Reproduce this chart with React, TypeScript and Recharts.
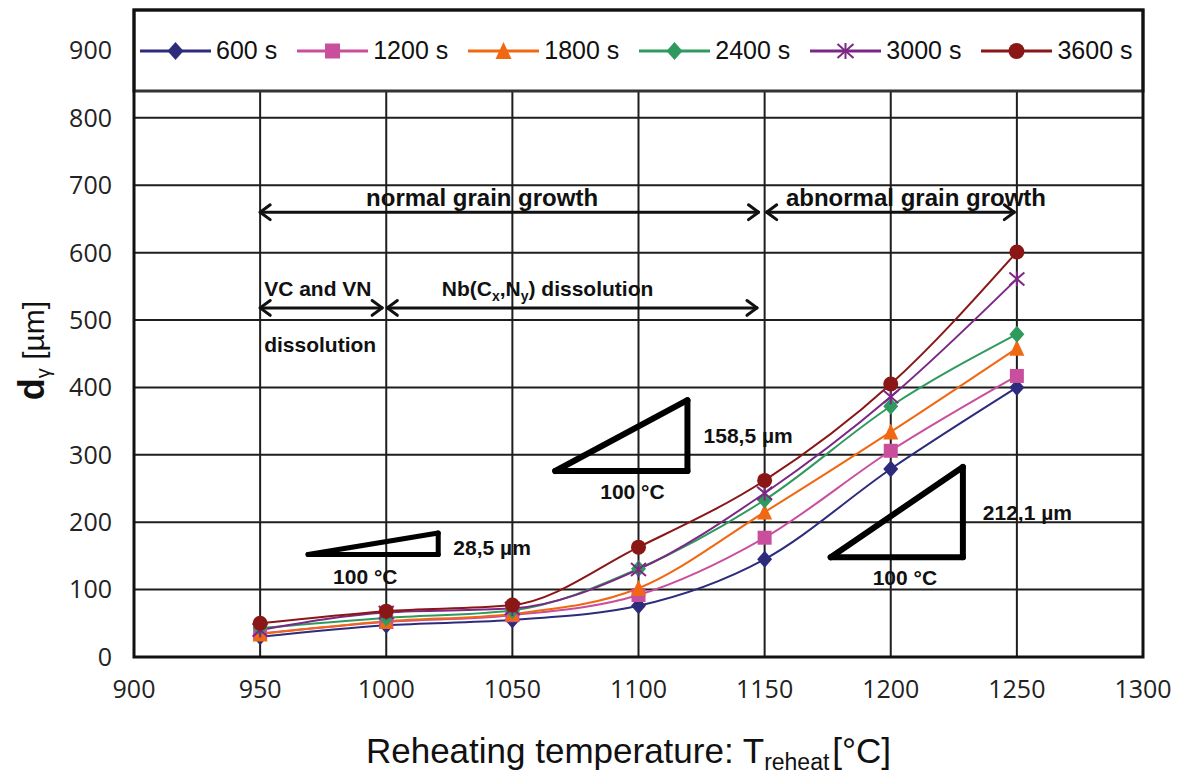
import React from 'react';
import {
  LineChart,
  Line,
  XAxis,
  YAxis,
  CartesianGrid,
  ReferenceArea,
  ReferenceLine,
  ReferenceDot,
} from 'recharts';

// reheating temperatures [°C]
const temps = [950, 1000, 1050, 1100, 1150, 1200, 1250];

// grain size d_gamma [µm] per holding time
const d600 = [30, 47, 55, 76, 145, 279, 400];
const d1200 = [35, 52, 62, 92, 177, 306, 417];
const d1800 = [34, 53, 64, 102, 215, 334, 458];
const d2400 = [43, 58, 69, 131, 233, 372, 479];
const d3000 = [40, 66, 72, 130, 243, 386, 561];
const d3600 = [50, 68, 77, 163, 262, 405, 601];

const xTicks = [900, 950, 1000, 1050, 1100, 1150, 1200, 1250, 1300];
const yTicks = [0, 100, 200, 300, 400, 500, 600, 700, 800, 900];

const series = [
  { key: 'd600', name: '600 s', color: '#2d2b7c', shape: 'diamond', values: d600 },
  { key: 'd1200', name: '1200 s', color: '#c94f9d', shape: 'square', values: d1200 },
  { key: 'd1800', name: '1800 s', color: '#f06812', shape: 'triangle', values: d1800 },
  { key: 'd2400', name: '2400 s', color: '#2f9a5d', shape: 'diamond', values: d2400 },
  { key: 'd3000', name: '3000 s', color: '#7b2885', shape: 'star', values: d3000 },
  { key: 'd3600', name: '3600 s', color: '#8a1616', shape: 'circle', values: d3600 },
];

const data = temps.map((t, i) => {
  const row: Record<string, number> = { t };
  series.forEach((s) => {
    row[s.key] = s.values[i];
  });
  return row;
});

// slope triangles: left tip, top right corner, bottom right corner (data units)
const triangles = [
  [[969, 152], [1020.6, 184], [1020.6, 152]],
  [[1067, 276], [1119.4, 381], [1119.4, 276]],
  [[1176.2, 148], [1228.6, 282], [1228.6, 148]],
];

// double arrows: y level, x from, x to
const arrows = [
  [660, 950, 1147.6],
  [660, 1150.8, 1249],
  [518, 950, 998.4],
  [518, 1000.4, 1147],
];

// text notes: x, y, text, size, anchor
const notes: [number, number, string, number, string][] = [
  [1038, 682, 'normal grain growth', 24, 'middle'],
  [1210, 682, 'abnormal grain growth', 24, 'middle'],
  [951.6, 546, 'VC and VN', 21, 'start'],
  [951.6, 464, 'dissolution', 21, 'start'],
  [1026.6, 162, '28,5 µm', 21, 'start'],
  [991.7, 119, '100 °C', 21, 'middle'],
  [1125.8, 328, '158,5 µm', 21, 'start'],
  [1097.6, 245, '100 °C', 21, 'middle'],
  [1236.5, 214, '212,1 µm', 21, 'start'],
  [1205.6, 117, '100 °C', 21, 'middle'],
];

const noteFont = '"Liberation Sans", Arial, sans-serif';

function Marker({ shape, color, cx, cy, size = 15 }: any) {
  const h = size / 2;
  if (shape === 'diamond') {
    return <polygon points={`${cx},${cy - h - 1} ${cx + h},${cy} ${cx},${cy + h + 1} ${cx - h},${cy}`} fill={color} />;
  }
  if (shape === 'square') {
    return <rect x={cx - h + 0.5} y={cy - h + 0.5} width={size - 1} height={size - 1} fill={color} />;
  }
  if (shape === 'triangle') {
    return <polygon points={`${cx},${cy - h - 1} ${cx + h},${cy + h} ${cx - h},${cy + h}`} fill={color} />;
  }
  if (shape === 'star') {
    return (
      <g stroke={color} strokeWidth={2}>
        <line x1={cx} y1={cy - h} x2={cx} y2={cy + h} />
        <line x1={cx - h} y1={cy - h + 1} x2={cx + h} y2={cy + h - 1} />
        <line x1={cx - h} y1={cy + h - 1} x2={cx + h} y2={cy - h + 1} />
      </g>
    );
  }
  return <circle cx={cx} cy={cy} r={h} fill={color} />;
}

const makeDot = (shape: string, color: string) => (props: any) => {
  const { cx, cy, index } = props;
  return <Marker key={`${shape}-${color}-${index}`} shape={shape} color={color} cx={cx} cy={cy} />;
};

const noteLabel = (text: string, size: number, anchor: string) => (props: any) => {
  const { viewBox } = props;
  const x = viewBox.x + viewBox.width / 2;
  const y = viewBox.y + viewBox.height / 2;
  if (text.startsWith('Nb')) {
    return (
      <text x={x} y={y} dy="0.35em" fontFamily={noteFont} fontSize={size} fontWeight="bold" fill="#111" textAnchor={anchor as any}>
        Nb(C<tspan fontSize={14} dy={5}>x</tspan>
        <tspan dy={-5}>,N</tspan>
        <tspan fontSize={14} dy={5}>y</tspan>
        <tspan dy={-5}>) dissolution</tspan>
      </text>
    );
  }
  return (
    <text x={x} y={y} dy="0.35em" fontFamily={noteFont} fontSize={size} fontWeight="bold" fill="#111" textAnchor={anchor as any}>
      {text}
    </text>
  );
};

const XTitle = (props: any) => {
  const { viewBox } = props;
  const x = viewBox.x + viewBox.width / 2 - 10;
  const y = viewBox.y + 106;
  return (
    <text x={x} y={y} textAnchor="middle" fontFamily={noteFont} fontSize={35} fill="#111">
      Reheating temperature: T<tspan fontSize={23} dy={7}>reheat</tspan>
      <tspan dy={-7} dx={3}>[°C]</tspan>
    </text>
  );
};

const YTitle = (props: any) => {
  const { viewBox } = props;
  const cx = viewBox.x + 38;
  const cy = viewBox.y + viewBox.height / 2 + 17;
  return (
    <text x={cx} y={cy} transform={`rotate(-90, ${cx}, ${cy})`} textAnchor="middle" dy="0.35em" fontFamily={noteFont} fill="#111">
      <tspan fontSize={36} fontWeight="bold">d</tspan>
      <tspan fontSize={20} dy={6}>γ</tspan>
      <tspan fontSize={30} dy={-6}> [µm]</tspan>
    </text>
  );
};

function LegendRow() {
  return (
    <div
      style={{
        position: 'absolute',
        left: 140,
        top: 36,
        display: 'flex',
        alignItems: 'center',
        fontFamily: noteFont,
        fontSize: 25,
        color: '#111',
      }}
    >
      {series.map((s) => (
        <div key={s.key} style={{ display: 'flex', alignItems: 'center', marginRight: 20 }}>
          <svg width={71} height={24}>
            <line x1={0} y1={12} x2={71} y2={12} stroke={s.color} strokeWidth={3} />
            <Marker shape={s.shape} color={s.color} cx={35.5} cy={12} size={16} />
          </svg>
          <span style={{ marginLeft: 5 }}>{s.name}</span>
        </div>
      ))}
    </div>
  );
}

export default function App() {
  const tick = { fill: '#222', fontSize: 25, fontFamily: '"Open Sans", sans-serif' };
  const head = 4;
  const headY = 11;
  return (
    <div style={{ position: 'absolute', left: 0, top: 0, width: 1189, height: 775, background: '#fff' }}>
      <LineChart width={1189} height={775} data={data} margin={{ top: 10, right: 46, bottom: 0, left: 0 }}>
        <CartesianGrid stroke="#1e1e1e" strokeWidth={2} />
        <XAxis
          dataKey="t"
          type="number"
          domain={[900, 1300]}
          ticks={xTicks}
          height={118}
          tickSize={0}
          tickMargin={23}
          tick={tick}
          axisLine={false}
          label={{ content: XTitle }}
        />
        <YAxis
          type="number"
          domain={[0, 960]}
          ticks={yTicks}
          width={134}
          tickSize={0}
          tickMargin={22}
          tick={tick}
          axisLine={false}
          label={{ content: YTitle }}
        />
        {/* legend box over the top of the plot */}
        <ReferenceArea x1={900} x2={1300} y1={840} y2={960} fill="#fff" fillOpacity={1} stroke="#333" strokeWidth={3} />
        {/* plot frame */}
        <ReferenceArea x1={900} x2={1300} y1={0} y2={960} fill="none" stroke="#111" strokeWidth={3} />

        {triangles.map((tri, i) =>
          [0, 1, 2].map((k) => {
            const a = tri[k];
            const b = tri[(k + 1) % 3];
            return (
              <ReferenceLine
                key={`tri-${i}-${k}`}
                segment={[{ x: a[0], y: a[1] }, { x: b[0], y: b[1] }]}
                stroke="#000"
                strokeWidth={i === 0 ? 5 : 6}
                strokeLinecap="round"
              />
            );
          })
        )}

        {arrows.map(([y, x1, x2], i) => (
          <React.Fragment key={`arr-${i}`}>
            <ReferenceLine segment={[{ x: x1, y }, { x: x2, y }]} stroke="#111" strokeWidth={3} />
            <ReferenceLine segment={[{ x: x1, y }, { x: x1 + head, y: y + headY }]} stroke="#111" strokeWidth={3} strokeLinecap="round" />
            <ReferenceLine segment={[{ x: x1, y }, { x: x1 + head, y: y - headY }]} stroke="#111" strokeWidth={3} strokeLinecap="round" />
            <ReferenceLine segment={[{ x: x2, y }, { x: x2 - head, y: y + headY }]} stroke="#111" strokeWidth={3} strokeLinecap="round" />
            <ReferenceLine segment={[{ x: x2, y }, { x: x2 - head, y: y - headY }]} stroke="#111" strokeWidth={3} strokeLinecap="round" />
          </React.Fragment>
        ))}

        {notes.map(([x, y, text, size, anchor], i) => (
          <ReferenceDot key={`note-${i}`} x={x} y={y} r={0} stroke="none" fill="none" label={{ content: noteLabel(text, size, anchor) }} />
        ))}
        <ReferenceDot x={1022} y={546} r={0} stroke="none" fill="none" label={{ content: noteLabel('Nb', 21, 'start') }} />

        {series.map((s) => (
          <Line
            key={s.key}
            type="monotone"
            dataKey={s.key}
            name={s.name}
            stroke={s.color}
            strokeWidth={2}
            dot={makeDot(s.shape, s.color)}
            activeDot={false}
            isAnimationActive={false}
          />
        ))}
      </LineChart>
      <LegendRow />
    </div>
  );
}
